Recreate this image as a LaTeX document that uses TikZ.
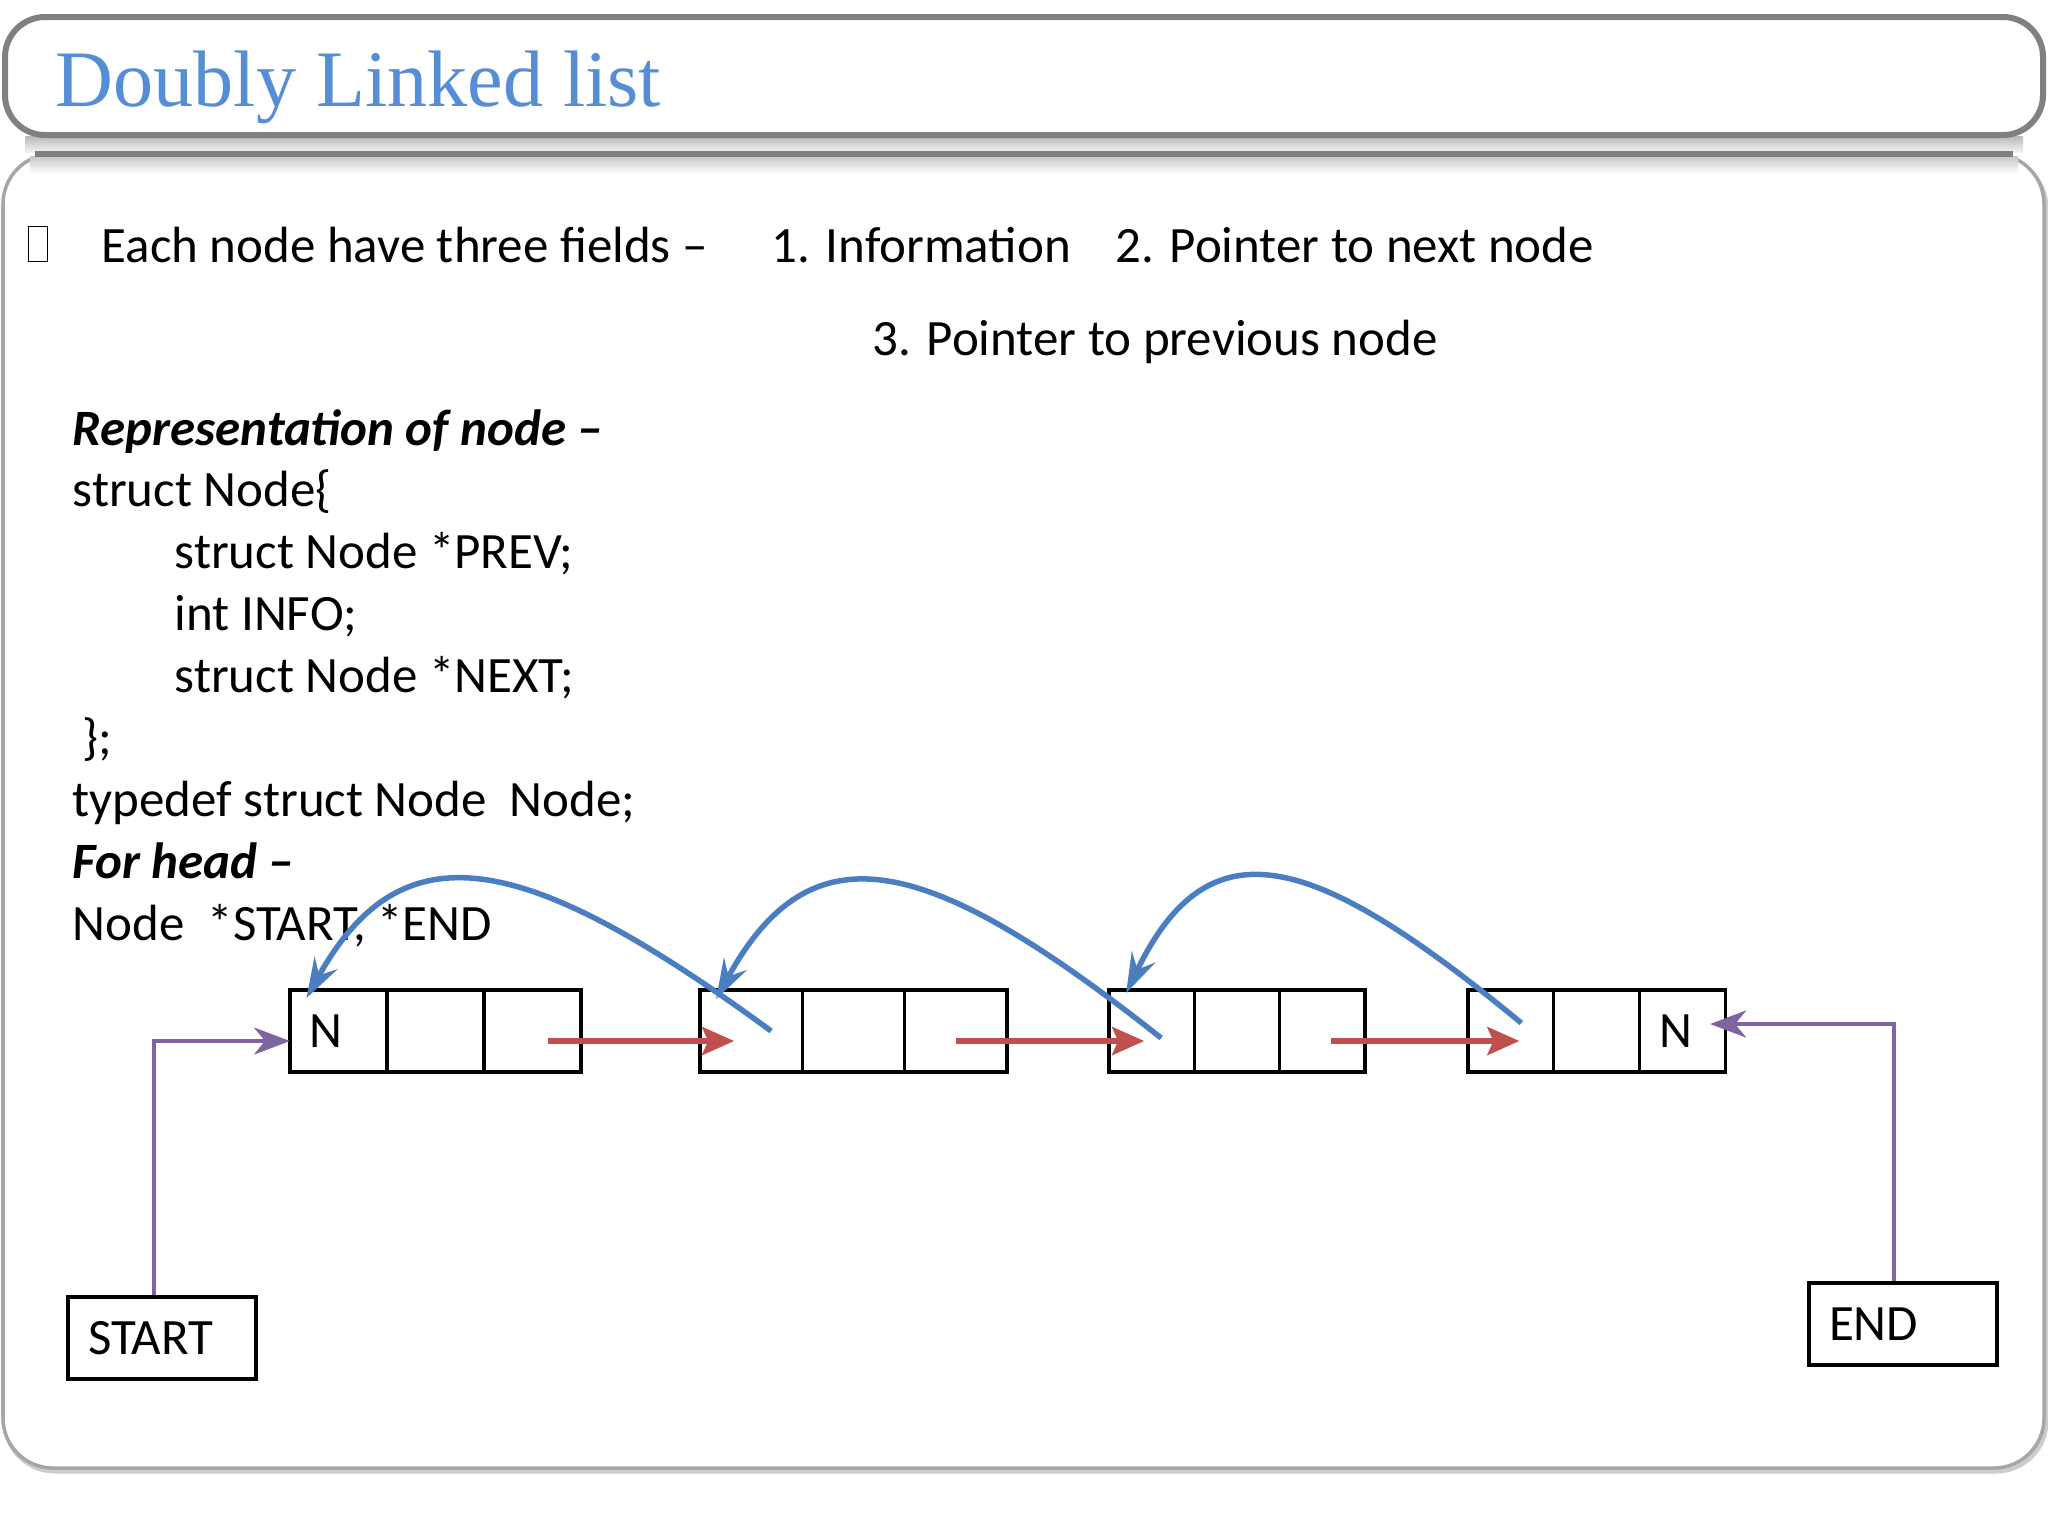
\documentclass[tikz,border=0pt]{standalone}
\usepackage{fontspec}
\setmainfont{Carlito}
\newfontfamily\titlefont{Liberation Serif}
\usetikzlibrary{arrows.meta,positioning,chains,calc}
\definecolor{titleblue}{RGB}{85,142,213}
\definecolor{linkblue}{RGB}{74,126,193}
\definecolor{nextred}{RGB}{192,80,77}
\definecolor{headpurple}{RGB}{128,100,162}
\definecolor{framegray}{RGB}{128,128,128}

\begin{document}
\begin{tikzpicture}[x=0.1mm, y=-0.1mm,
            node distance=0pt,
            font=\fontsize{14.5}{17}\selectfont,
                X/.style = {rectangle, draw, line width=0.32mm,% one field of a list node
                            minimum width=#1, minimum height=8.2mm, inner sep=0pt,
                            outer sep=0pt, on chain},
                X/.default=9.7mm,
              nxt/.style = {nextred, line width=0.55mm,
                            -{Stealth[length=3.2mm,width=2.8mm,inset=0.6mm]}},
              prv/.style = {linkblue, line width=0.55mm,
                            -{Stealth[length=4mm,width=2.6mm,inset=1.4mm]}},
             head/.style = {headpurple, line width=0.4mm,
                            -{Stealth[length=3.6mm,width=2.7mm,inset=1.1mm]}},
              ptr/.style = {rectangle, draw, line width=0.32mm,
                            minimum width=18.8mm, minimum height=8.2mm,
                            text width=14.8mm, align=left, inner xsep=2mm},
              txt/.style = {anchor=base west, inner sep=0pt},
                ]
            \useasboundingbox (0,0) rectangle (2048,1536);
            \fill[white] (0,0) rectangle (2048,1536);
            % title bar and slide frame
            \shade[top color=gray!55, bottom color=gray!10] (25,136) rectangle (2023,152);
            \draw[framegray, line width=0.6mm, fill=white, rounded corners=4mm] (5,17) rectangle (2043,135);
            \draw[gray!40, line width=0.5mm, rounded corners=5mm] (5,158) rectangle (2046,1471);
            \draw[gray!70, line width=0.35mm, fill=white, rounded corners=5mm] (3,154) rectangle (2044,1468);
            \shade[top color=gray!45, bottom color=white] (30,156) rectangle (2018,174);
            \draw[framegray, line width=0.6mm] (35,154) -- (2013,154);
            \node[txt, font=\titlefont\fontsize{22.8}{26}\selectfont, text=titleblue] (title) at (55,106) {Doubly Linked list};
            % fields
            \node[draw, line width=0.15mm, minimum width=1.9mm, minimum height=3.5mm, inner sep=0pt] (bullet) at (38,244) {};
            \node[txt] (fields) at (101,262) {Each node have three fields –};
            \node[txt] (info)   at (771,262) {1. Information};
            \node[txt] (next)   at (1115,262) {2. Pointer to next node};
            \node[txt] (prev)   at (872,355) {3. Pointer to previous node};
            \foreach \t [count=\i] in {{\textbf{\textit{Representation of node –}}},
                                       struct Node\{,
                                       \hspace{10.2mm}struct Node *PREV;,
                                       \hspace{10.2mm}int INFO;,
                                       \hspace{10.2mm}struct Node *NEXT;,
                                       \hspace{1mm}\};,
                                       typedef struct Node~~Node;,
                                       {\textbf{\textit{For head –}}},
                                       {Node~~*START,~*END}}% <-- lines of the code
                \node[txt] (code-\i) at (72,{445+61.9*(\i-1)}) {\t};
            % list nodes
            \begin{scope}[start chain=L1 going right]
                \node[X, anchor=west] at (290,1031) {\hspace*{-2.6mm}N};
                \node[X] {};
                \node[X] {};
            \end{scope}
            \begin{scope}[start chain=L2 going right]
                \node[X=10.23mm, anchor=west] at (700,1031) {};
                \node[X=10.23mm] {};
                \node[X=10.23mm] {};
            \end{scope}
            \begin{scope}[start chain=L3 going right]
                \node[X=8.53mm, anchor=west] at (1109,1031) {};
                \node[X=8.53mm] {};
                \node[X=8.53mm] {};
            \end{scope}
            \begin{scope}[start chain=L4 going right]
                \node[X=8.57mm, anchor=west] at (1468,1031) {};
                \node[X=8.57mm] {};
                \node[X=8.57mm] {\hspace*{-1.3mm}N};
            \end{scope}
            \node[ptr] (startptr) at (162,1338) {START};
            \node[ptr] (endptr)   at (1903,1324) {END};
            % next links
            \draw[nxt] ([xshift=1.5mm,yshift=-1mm]L1-3.center) -- ([xshift=-1.7mm,yshift=-1mm]L2-1.center);
            \draw[nxt] ([yshift=-1mm]L2-3.center) -- ([xshift=-0.75mm,yshift=-1mm]L3-1.center);
            \draw[nxt] ([xshift=0.85mm,yshift=-1mm]L3-3.center) -- ([xshift=0.85mm,yshift=-1mm]L4-1.center);
            % previous links
            \draw[prv] ([xshift=2mm]L2-1.center) .. controls +(-250,-183) and +(95,-171) .. ([xshift=-3.2mm,yshift=-0.8mm]L1-1.north);
            \draw[prv] ([xshift=0.95mm,yshift=-0.7mm]L3-1.center) .. controls +(-235,-186) and +(95,-174) .. ([xshift=-3.5mm,yshift=-0.9mm]L2-1.north);
            \draw[prv] ([xshift=1.05mm,yshift=0.8mm]L4-1.center) .. controls +(-212,-175) and +(82,-170) .. ([xshift=-2.55mm,yshift=-0.3mm]L3-1.north);
            % head pointers
            \draw[head] ([xshift=-0.8mm]startptr.north) |- ([yshift=-1mm]L1-1.west);
            \draw[head] ([xshift=-0.9mm]endptr.north) |- ([xshift=-1.5mm,yshift=0.7mm]L4-3.east);
        \end{tikzpicture}
\end{document}
